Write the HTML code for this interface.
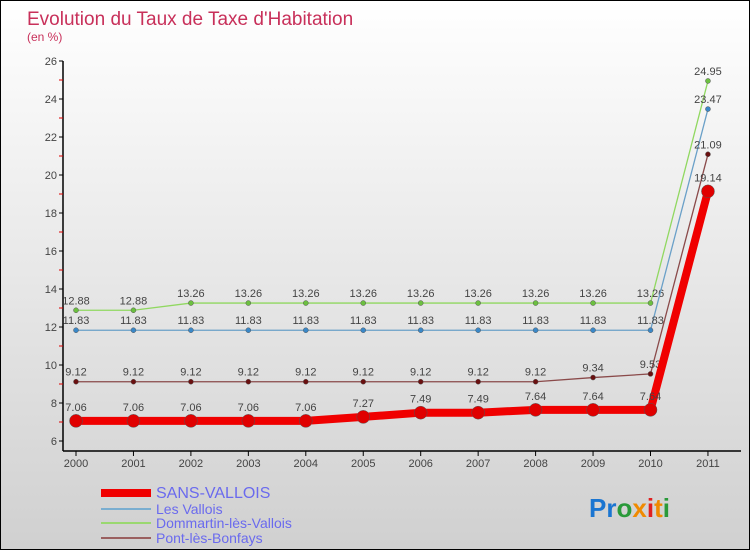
<!DOCTYPE html>
<html><head><meta charset="utf-8"><style>
html,body{margin:0;padding:0}
body{width:750px;height:550px;overflow:hidden}
#c{position:relative;width:748px;height:548px;border:1px solid #000;background:linear-gradient(#fff,#d0d0d0)}
svg{position:absolute;left:0;top:0}
text{font-family:"Liberation Sans",sans-serif}
</style></head><body>
<div id="c">
<svg id="s" width="750" height="550">
<text x="26" y="24" font-size="19" fill="#c8305a">Evolution du Taux de Taxe d'Habitation</text>
<text x="26" y="40" font-size="12" fill="#c8305a">(en %)</text>
<text x="588" y="516" font-size="26" font-weight="bold"><tspan fill="#1a75d1">Pr</tspan><tspan fill="#2a9a3a">o</tspan><tspan fill="#f08a00">x</tspan><tspan fill="#e02020">i</tspan><tspan fill="#f08a00">t</tspan><tspan fill="#2a9a3a">i</tspan></text>
</svg>
</div>
<script>
const years=["2000","2001","2002","2003","2004","2005","2006","2007","2008","2009","2010","2011"];
const sansVallois=[7.06,7.06,7.06,7.06,7.06,7.27,7.49,7.49,7.64,7.64,7.64,19.14];
const lesVallois=[11.83,11.83,11.83,11.83,11.83,11.83,11.83,11.83,11.83,11.83,11.83,23.47];
const dommartin=[12.88,12.88,13.26,13.26,13.26,13.26,13.26,13.26,13.26,13.26,13.26,24.95];
const pontBonfays=[9.12,9.12,9.12,9.12,9.12,9.12,9.12,9.12,9.12,9.34,9.53,21.09];
const yTicks=[6,8,10,12,14,16,18,20,22,24,26];
const names=["SANS-VALLOIS","Les Vallois","Dommartin-lès-Vallois","Pont-lès-Bonfays"];
const NS="http://www.w3.org/2000/svg",s=document.getElementById('s');
const X=i=>75+i*57.45, Y=v=>440-(v-6)*19;
function mk(t,a,p){const e=document.createElementNS(NS,t);for(const k in a)e.setAttribute(k,a[k]);(p||s).appendChild(e);return e;}
let e=mk('line',{x1:62,y1:Y(26),x2:62,y2:450,stroke:'#000','stroke-width':1.5});


e=mk('line',{x1:62,y1:450,x2:740,y2:450,stroke:'#000','stroke-width':1.5});


yTicks.forEach((v,i)=>{
 mk('line',{x1:58,x2:62,y1:Y(v),y2:Y(v),stroke:'#000'});
 if(i<yTicks.length-1) mk('line',{x1:58,x2:62,y1:Y(v+1),y2:Y(v+1),stroke:'#d00'});
 const t=mk('text',{x:56,y:Y(v)+4,'font-size':11,fill:'#444','text-anchor':'end'});t.textContent=v;
 
 
});
years.forEach((y,i)=>{
 mk('line',{x1:X(i),x2:X(i),y1:450,y2:455,stroke:'#000'});
 const t=mk('text',{x:X(i),y:466,'font-size':11,fill:'#444','text-anchor':'middle'});t.textContent=y;
 
 
});
const series=[[dommartin,'#90d860','#6cc040',2.5,1,'dommartin'],[lesVallois,'#6aa0c8','#3a88c8',2.5,1,'les-vallois'],[pontBonfays,'#8a4a4a','#6a1010',2.5,1,'pont-les-bonfays'],[sansVallois,'#f00000','#e00000',6.5,4,'sans-vallois']];
series.forEach(([d,lc,pc,r,w,n])=>{
 const g=mk('g',{});
 
 
 mk('polyline',{points:d.map((v,i)=>X(i)+','+Y(v)).join(' '),fill:'none',stroke:lc,'stroke-width':w==4?8:1.3},g);
 d.forEach((v,i)=>{
  const c=mk('circle',{cx:X(i),cy:Y(v),r:r,fill:pc,stroke:'#555','stroke-width':0.5},g);
  
  
  const t=mk('text',{x:X(i),y:Y(v)-(w==4?10:6),'font-size':11,fill:'#444','text-anchor':'middle'},g);
  t.textContent=v; 
  
 });
});
const lc=['#f00000','#7aaed0','#9ad870','#9a6060'],lw=[8,2,2,2],ly=[492,508,522,537],fs=[16,14,14,14];
names.forEach((n,i)=>{
 const g=mk('g',{});
 
 
 mk('line',{x1:100,x2:150,y1:ly[i],y2:ly[i],stroke:lc[i],'stroke-width':lw[i]},g);
 const t=mk('text',{x:155,y:ly[i]+5,'font-size':fs[i],fill:'#6a6aee'},g);t.textContent=n;
});
</script>
</body></html>
